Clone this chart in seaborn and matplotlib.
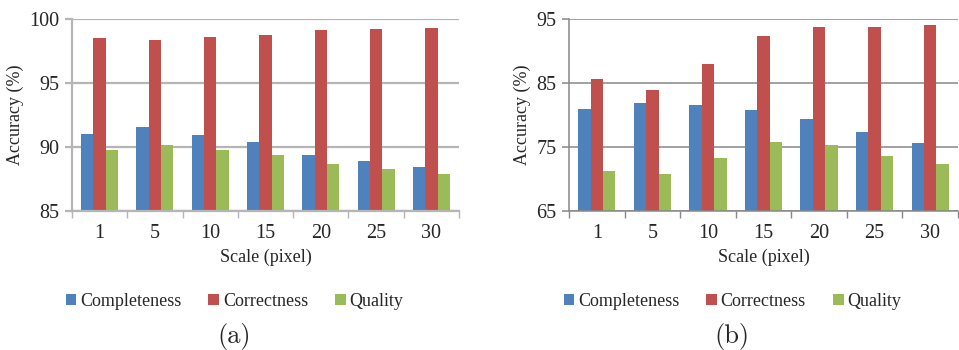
import numpy as np
import matplotlib
matplotlib.use('Agg')
import matplotlib.pyplot as plt
import pandas as pd
import seaborn as sns
from matplotlib.patches import Patch

scales = ['1', '5', '10', '15', '20', '25', '30']
metrics = ['Completeness', 'Correctness', 'Quality']

# panel (a)
a_completeness = [91.0, 91.55, 90.95, 90.4, 89.4, 88.9, 88.45]
a_correctness = [98.5, 98.35, 98.6, 98.75, 99.15, 99.2, 99.27]
a_quality = [89.8, 90.15, 89.8, 89.4, 88.7, 88.3, 87.9]

# panel (b)
b_completeness = [80.9, 81.9, 81.5, 80.8, 79.3, 77.3, 75.7]
b_correctness = [85.7, 83.9, 87.9, 92.4, 93.8, 93.8, 94.1]
b_quality = [71.2, 70.8, 73.3, 75.8, 75.25, 73.6, 72.3]

colors = ['#4F81BD', '#C0504D', '#9BBB59']


def long_df(series):
    rows = []
    for m, vals in zip(metrics, series):
        for s, v in zip(scales, vals):
            rows.append({'Scale': s, 'Metric': m, 'Accuracy': v})
    return pd.DataFrame(rows)


sns.set_style('white')
plt.rcParams['font.family'] = ['Liberation Serif', 'DejaVu Serif']

fig = plt.figure(figsize=(9.59, 3.5), dpi=100)
ax_a = fig.add_axes([72 / 959, 1 - 211 / 350, 387 / 959, 192 / 350])
ax_b = fig.add_axes([569 / 959, 1 - 211 / 350, 389 / 959, 192 / 350])

panels = [
    (ax_a, [a_completeness, a_correctness, a_quality], (85, 100), [85, 90, 95, 100], '#b5b5b5', 1.6, '(a)'),
    (ax_b, [b_completeness, b_correctness, b_quality], (65, 95), [65, 75, 85, 95], '#888888', 1.1, '(b)'),
]

for ax, series, ylim, yticks, gcol, glw, tag in panels:
    df = long_df(series)
    sns.barplot(data=df, x='Scale', y='Accuracy', hue='Metric', palette=colors,
                width=0.67, gap=0, ax=ax, legend=False, edgecolor='none',
                saturation=1, errorbar=None)
    ax.set_ylim(*ylim)
    ax.set_yticks(yticks)
    ax.set_xlim(-0.5, 6.5)
    ax.yaxis.grid(True, color=gcol, linewidth=glw)
    ax.set_axisbelow(True)
    for side in ['top', 'right']:
        ax.spines[side].set_visible(False)
    for side in ['left', 'bottom']:
        ax.spines[side].set_color(gcol)
        ax.spines[side].set_linewidth(glw)
    ax.tick_params(axis='y', length=5, width=glw, color=gcol, labelsize=14.5, pad=4, left=True)
    # tick marks between categories, labels centered
    ax.set_xticks(np.arange(-0.5, 7, 1), minor=True)
    ax.tick_params(axis='x', which='minor', length=5, width=1, color=gcol, bottom=True)
    ax.tick_params(axis='x', which='major', length=0, labelsize=14.5, pad=9.5)
    ax.set_xlabel('Scale (pixel)', fontsize=13, labelpad=4)
    ax.set_ylabel('Accuracy (%)', fontsize=13, labelpad=4)

    handles = [Patch(facecolor=c, edgecolor='none', label=m) for c, m in zip(colors, metrics)]
    pos = ax.get_position()
    cx = pos.x0 + pos.width * 0.42
    ax.legend(handles=handles, loc='center', bbox_to_anchor=(0.42, -0.47),
              ncol=3, frameon=False, fontsize=13, handlelength=0.6, handleheight=0.6,
              handletextpad=0.2, columnspacing=1.5)
    fig.text(cx, 1 - 337 / 350, tag, ha='center', va='center', fontsize=19,
             family=['cmr10', 'DejaVu Serif'])

fig.savefig('out.png', dpi=100)
